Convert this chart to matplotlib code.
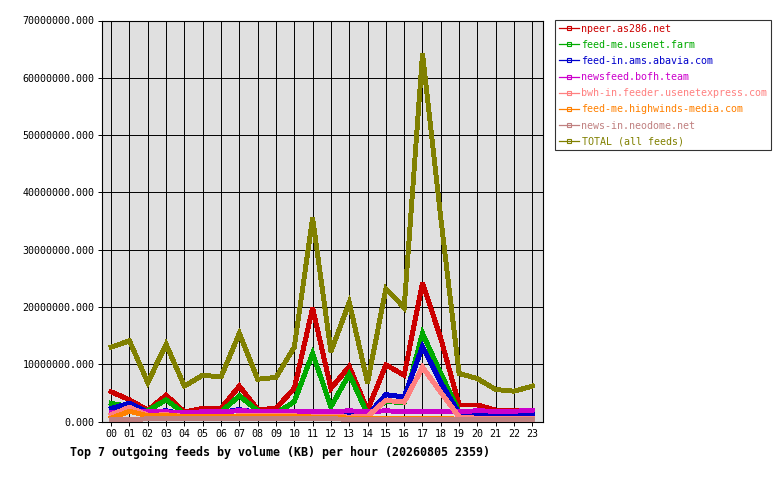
"""
Top 7 outgoing feeds by volume (KB) per hour - recreated with matplotlib.
"""

import matplotlib
matplotlib.use("Agg")
import matplotlib.pyplot as plt
from matplotlib.lines import Line2D
from matplotlib.ticker import FuncFormatter

hours = ["00", "01", "02", "03", "04", "05", "06", "07", "08", "09", "10", "11",
         "12", "13", "14", "15", "16", "17", "18", "19", "20", "21", "22", "23"]

# values in millions of KB
npeer = [5.2, 3.8, 2.0, 4.6, 1.7, 2.3, 2.3, 6.2, 2.1, 2.3, 5.8, 19.8,
         5.8, 9.6, 2.0, 9.9, 8.1, 24.2, 14.5, 2.9, 2.9, 2.0, 1.9, 1.9]
feed_me_usenet = [3.2, 2.6, 1.9, 3.8, 1.4, 1.7, 1.7, 4.5, 1.9, 1.4, 3.5, 11.9,
                  2.6, 8.3, 1.3, 3.5, 3.3, 15.4, 8.4, 1.7, 1.2, 1.2, 1.2, 1.2]
feed_in_ams = [2.3, 3.2, 1.6, 1.9, 1.3, 1.6, 1.6, 2.1, 1.6, 1.4, 1.3, 1.3,
               1.3, 1.4, 1.1, 4.7, 4.3, 13.1, 6.8, 1.4, 1.3, 1.1, 1.1, 1.2]
newsfeed_bofh = [1.6, 1.8, 1.7, 1.7, 1.6, 1.7, 1.7, 1.9, 1.8, 1.7, 1.7, 1.7,
                 1.7, 1.9, 1.7, 1.9, 1.7, 1.7, 1.7, 1.7, 1.9, 1.8, 1.8, 2.0]
bwh_in = [1.2, 2.5, 1.1, 1.2, 0.9, 0.9, 0.9, 1.0, 1.0, 1.0, 1.0, 0.9,
          0.9, 0.8, 0.9, 3.7, 3.4, 9.5, 5.1, 0.8, 0.6, 0.6, 0.6, 0.6]
feed_me_highwinds = [0.6, 1.8, 1.0, 1.1, 0.9, 0.9, 0.9, 0.9, 0.9, 0.9, 0.9, 0.8,
                     0.8, 0.6, 0.5, 0.6, 0.6, 0.6, 0.6, 0.4, 0.4, 0.4, 0.4, 0.4]
news_in_neodome = [0.3, 0.3, 0.5, 0.5, 0.5, 0.5, 0.5, 0.5, 0.5, 0.5, 0.5, 0.5,
                   0.5, 0.4, 0.4, 0.4, 0.4, 0.4, 0.4, 0.4, 0.4, 0.4, 0.4, 0.4]
total = [13.0, 14.1, 6.8, 13.5, 6.2, 8.1, 7.8, 15.4, 7.4, 7.7, 13.0, 35.5,
         12.2, 20.8, 6.8, 23.2, 19.9, 64.2, 35.5, 8.4, 7.5, 5.6, 5.3, 6.2]

labels = ["npeer.as286.net", "feed-me.usenet.farm", "feed-in.ams.abavia.com",
          "newsfeed.bofh.team", "bwh-in.feeder.usenetexpress.com",
          "feed-me.highwinds-media.com", "news-in.neodome.net", "TOTAL (all feeds)"]
series = [npeer, feed_me_usenet, feed_in_ams, newsfeed_bofh, bwh_in,
          feed_me_highwinds, news_in_neodome, total]
colors = ["#cc0000", "#00aa00", "#0000cc", "#cc00cc", "#ff8080",
          "#ff8000", "#c08080", "#808000"]

FONT = "DejaVu Sans Mono"
plt.rcParams["font.family"] = FONT

fig = plt.figure(figsize=(7.8, 4.8), dpi=100)
ax = fig.add_axes([102 / 780, 1 - 421.6 / 480, (543 - 102) / 780, (421.6 - 20.5) / 480])
ax.set_facecolor("#e0e0e0")

x = list(range(len(hours)))
for vals, col in zip(series, colors):
    ax.plot(x, [v * 1e6 for v in vals], color=col, lw=2.8,
            antialiased=False, solid_joinstyle="miter", zorder=3)

ax.set_xlim(-0.5, 23.58)
ax.set_ylim(0, 70e6)
ax.set_xticks(x)
ax.set_xticklabels(hours)
ax.set_yticks([i * 10e6 for i in range(8)])
ax.yaxis.set_major_formatter(FuncFormatter(lambda v, p: f"{v:.3f}"))
ax.tick_params(axis="both", labelsize=7.2, length=3, width=0.7, pad=2.5, colors="black")
ax.grid(True, color="black", lw=0.7, zorder=1)
ax.set_axisbelow(True)
for sp in ax.spines.values():
    sp.set_linewidth(0.8)
    sp.set_color("black")

handles = [Line2D([0], [0], color=c, lw=0.9, marker="s", ms=2.5,
                  markerfacecolor="none", markeredgewidth=0.8) for c in colors]
leg = fig.legend(handles, labels, loc="upper left",
                 bbox_to_anchor=(555 / 780, 1 - 20 / 480),
                 prop={"family": FONT, "size": 7.2},
                 frameon=True, fancybox=False, borderpad=0.35, borderaxespad=0,
                 handlelength=2.0, handletextpad=0.3, labelspacing=0.62)
leg.get_frame().set_edgecolor("black")
leg.get_frame().set_linewidth(0.8)
for txt, c in zip(leg.get_texts(), colors):
    txt.set_color(c)

fig.text(70 / 780, 1 - 452 / 480,
         "Top 7 outgoing feeds by volume (KB) per hour (20260805 2359)",
         fontsize=8.4, fontweight="bold", family=FONT, ha="left", va="center")

fig.savefig("out.png", dpi=100, facecolor="white")
